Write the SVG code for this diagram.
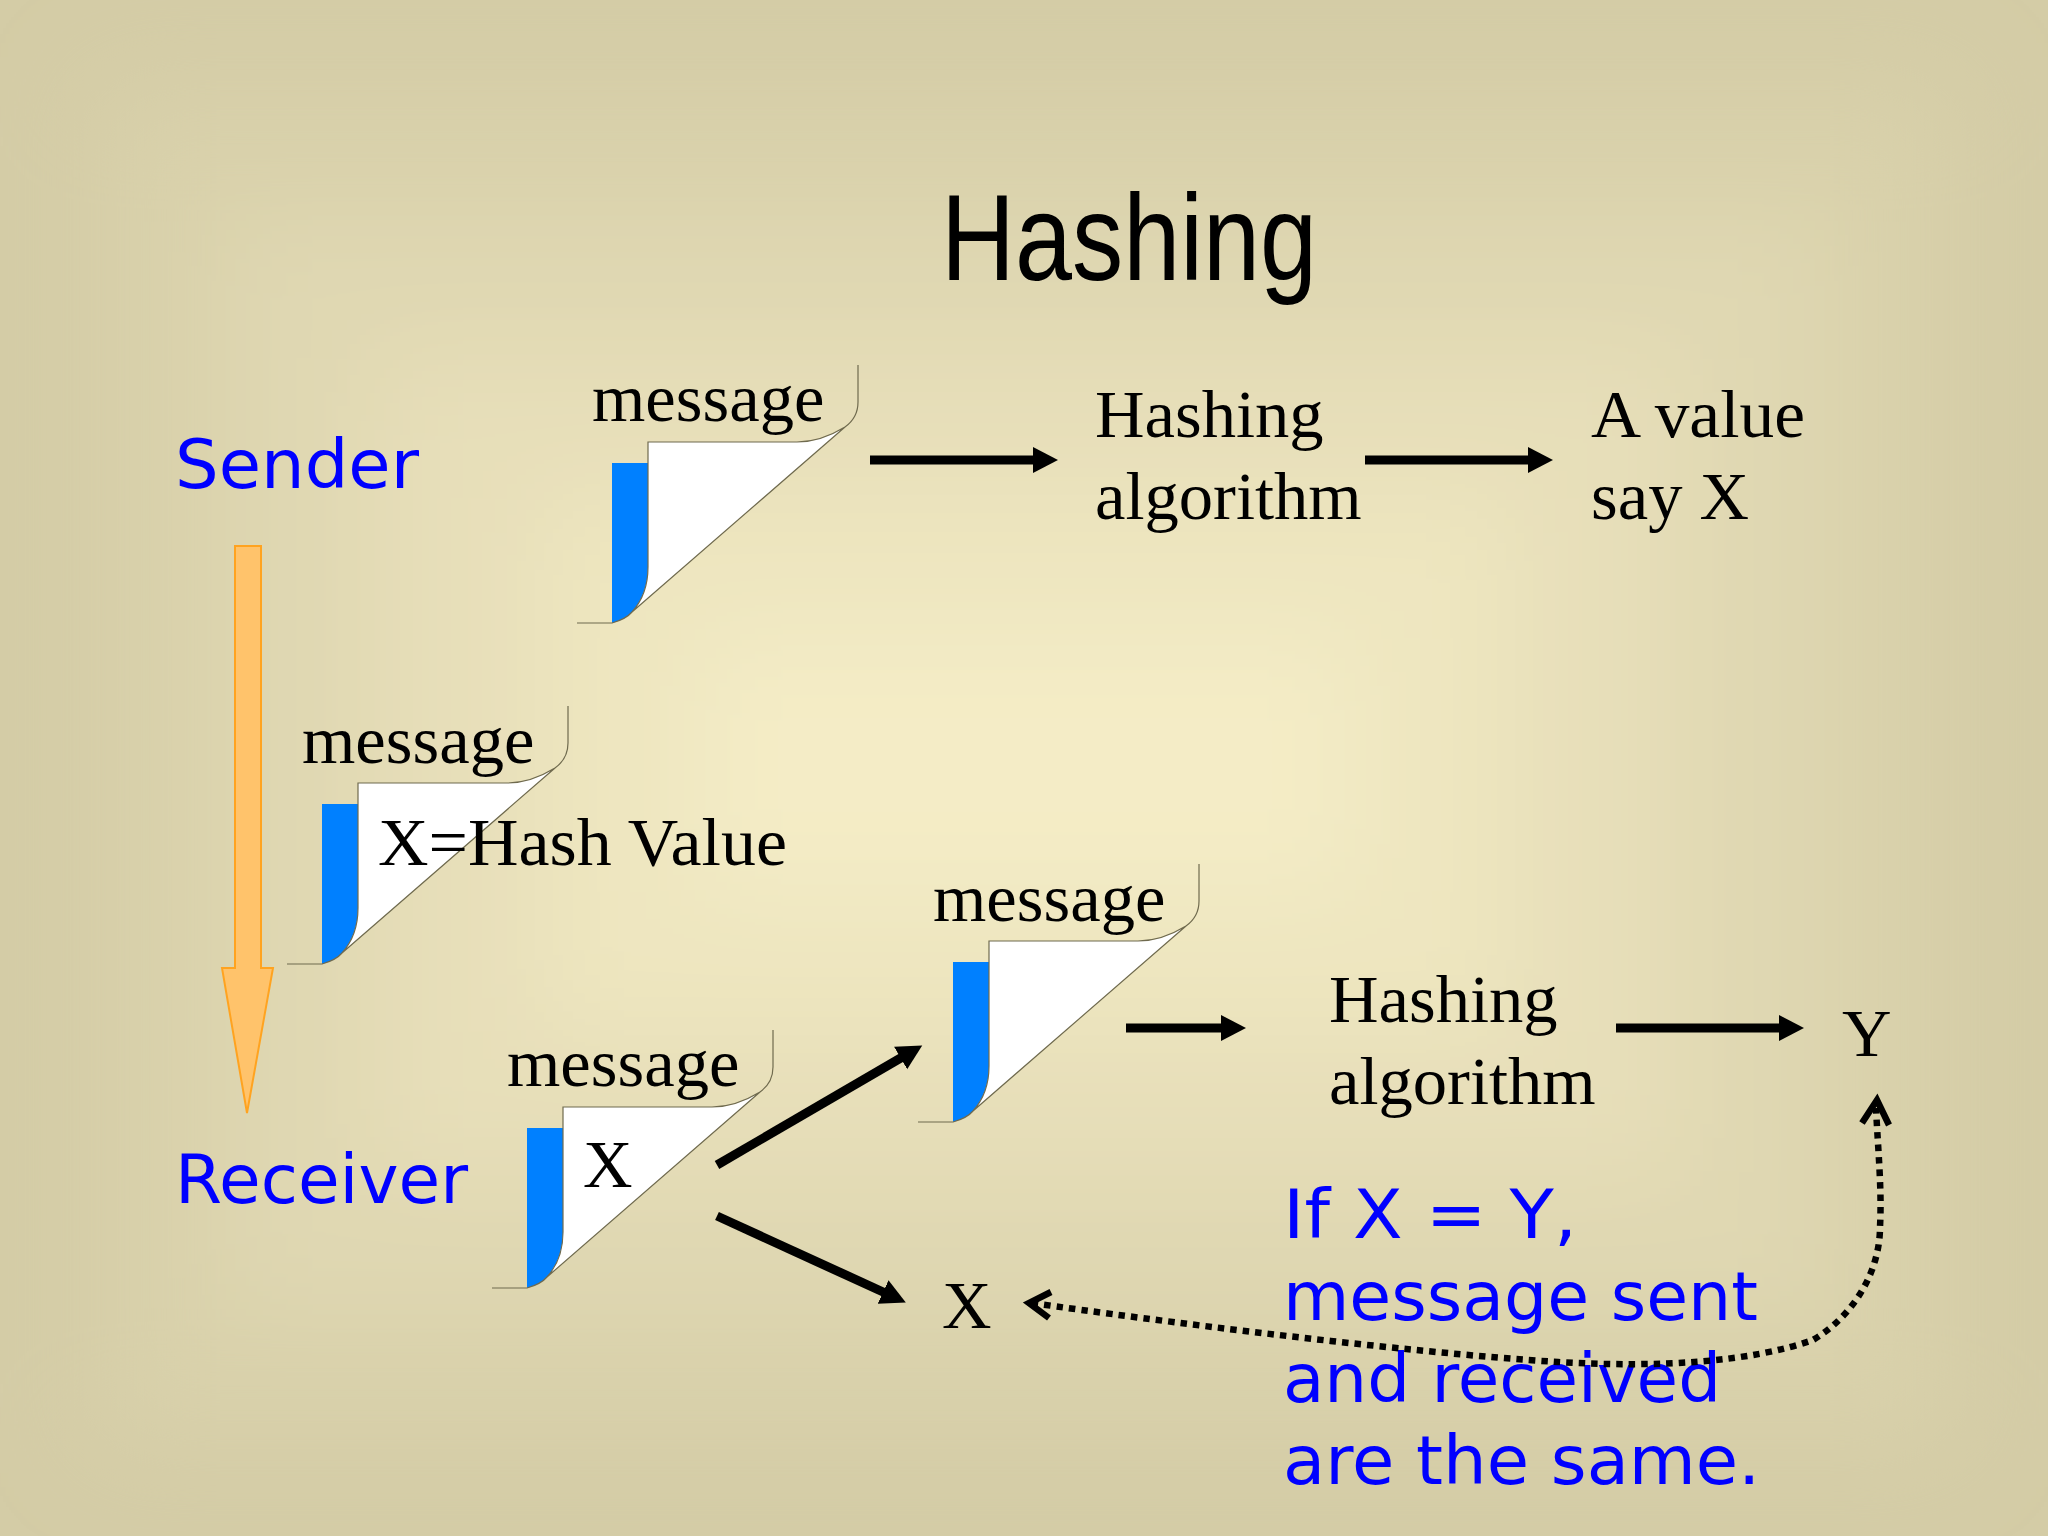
<svg xmlns="http://www.w3.org/2000/svg" width="2048" height="1536" viewBox="0 0 2048 1536">
<style>
.s{font-family:"Liberation Serif","Times New Roman",serif;font-size:68.6px;fill:#000}
.b{font-family:"DejaVu Sans",Verdana,sans-serif;font-size:68px;fill:#0000ff}
.t{font-family:"Liberation Sans",Arial,sans-serif;font-size:122px;fill:#000}
.a{stroke:#000;stroke-width:9;fill:none;marker-end:url(#h)}
.d{fill:none;stroke:#000;stroke-width:6.5}
</style>
<defs>
<marker id="h" markerUnits="userSpaceOnUse" markerWidth="26" markerHeight="28" refX="12" refY="14" orient="auto"><path d="M0 1L25 14L0 27Z" fill="#000"/></marker>
<filter id="blur" x="-10%" y="-10%" width="120%" height="120%"><feGaussianBlur stdDeviation="50"/></filter>
<g id="page">
<path d="M35 0V-160H71V-181H220C235 -181 250 -185 268 -196L55 -11C50 -5 42 -2 35 0Z" fill="#fff"/>
<path d="M35 0V-160H71V-56C71 -38 65 -22 55 -11C50 -5 42 -2 35 0Z" fill="#0080ff"/>
<path d="M281 -258V-221C281 -208 275 -201 268 -196C250 -185 235 -181 220 -181H71V-56C71 -38 65 -22 55 -11C50 -5 42 -2 35 0H0M268 -196L55 -11" fill="none" stroke="#6f6a4e" stroke-width="1.2"/>
</g>
</defs>
<rect width="2048" height="1536" fill="#d4cca6"/>
<g filter="url(#blur)">
<rect x="100" y="90" width="1850" height="1350" fill="#d9d1ab"/>
<rect x="230" y="220" width="1590" height="1090" fill="#e0d8b2"/>
<rect x="380" y="360" width="1290" height="810" fill="#e7dfb9"/>
<rect x="540" y="500" width="970" height="530" fill="#eee6c0"/>
<rect x="700" y="640" width="650" height="250" fill="#f4ecc6"/>
</g>
<text class="t" x="941" y="280" textLength="376" lengthAdjust="spacingAndGlyphs">Hashing</text>
<g id="sender-label"><text class="b" x="175" y="488" textLength="244" lengthAdjust="spacingAndGlyphs">Sender</text></g>
<g id="receiver-label"><text class="b" x="175" y="1203" textLength="293" lengthAdjust="spacingAndGlyphs">Receiver</text></g>
<g id="flow-arrow"><path d="M235 546H261V968H273L247 1113L222 968H235Z" fill="#ffc36b" stroke="#ffa320" stroke-width="2"/></g>
<g id="doc-sender"><use href="#page" x="577" y="623"/><text class="s" x="592" y="421">message</text></g>
<g id="doc-hash"><use href="#page" x="287" y="964"/><text class="s" x="302" y="763">message</text><text class="s" x="378" y="865" textLength="409" lengthAdjust="spacingAndGlyphs">X=Hash Value</text></g>
<g id="doc-verify"><use href="#page" x="918" y="1122"/><text class="s" x="933" y="921">message</text></g>
<g id="doc-received"><use href="#page" x="492" y="1288"/><text class="s" x="507" y="1086">message</text><text class="s" x="583" y="1187">X</text></g>
<g id="hash-1"><text class="s" x="1095" y="437">Hashing</text><text class="s" x="1095" y="519">algorithm</text></g>
<g id="value-x"><text class="s" x="1591" y="437" textLength="214" lengthAdjust="spacingAndGlyphs">A value</text><text class="s" x="1591" y="519">say X</text></g>
<g id="hash-2"><text class="s" x="1329" y="1022">Hashing</text><text class="s" x="1329" y="1104">algorithm</text></g>
<g id="value-y"><text class="s" x="1842" y="1056">Y</text></g>
<g id="x-node"><text class="s" x="942" y="1328">X</text></g>
<g id="note"><text class="b" x="1283" y="1238" textLength="294" lengthAdjust="spacingAndGlyphs">If X = Y,</text><text class="b" x="1283" y="1320" textLength="475" lengthAdjust="spacingAndGlyphs">message sent</text><text class="b" x="1283" y="1402" textLength="438" lengthAdjust="spacingAndGlyphs">and received</text><text class="b" x="1283" y="1484" textLength="477" lengthAdjust="spacingAndGlyphs">are the same.</text></g>
<g id="connectors">
<path class="a" d="M870 460H1045"/>
<path class="a" d="M1365 460H1540"/>
<path class="a" d="M1126 1028H1233"/>
<path class="a" d="M1616 1028H1791"/>
<path class="a" d="M717 1165L911 1052"/>
<path class="a" d="M717 1216L894 1297"/>
<path class="d" stroke-dasharray="6.5 6" d="M1032 1303C1150 1320 1400 1352 1558 1362C1660 1368 1750 1362 1813 1340C1855 1315 1880 1270 1880 1227C1882 1190 1878 1150 1876 1108"/>
<path class="d" d="M1051 1292L1029 1303L1049 1318"/>
<path class="d" d="M1862 1123L1877 1100L1889 1125"/>
</g>
</svg>
